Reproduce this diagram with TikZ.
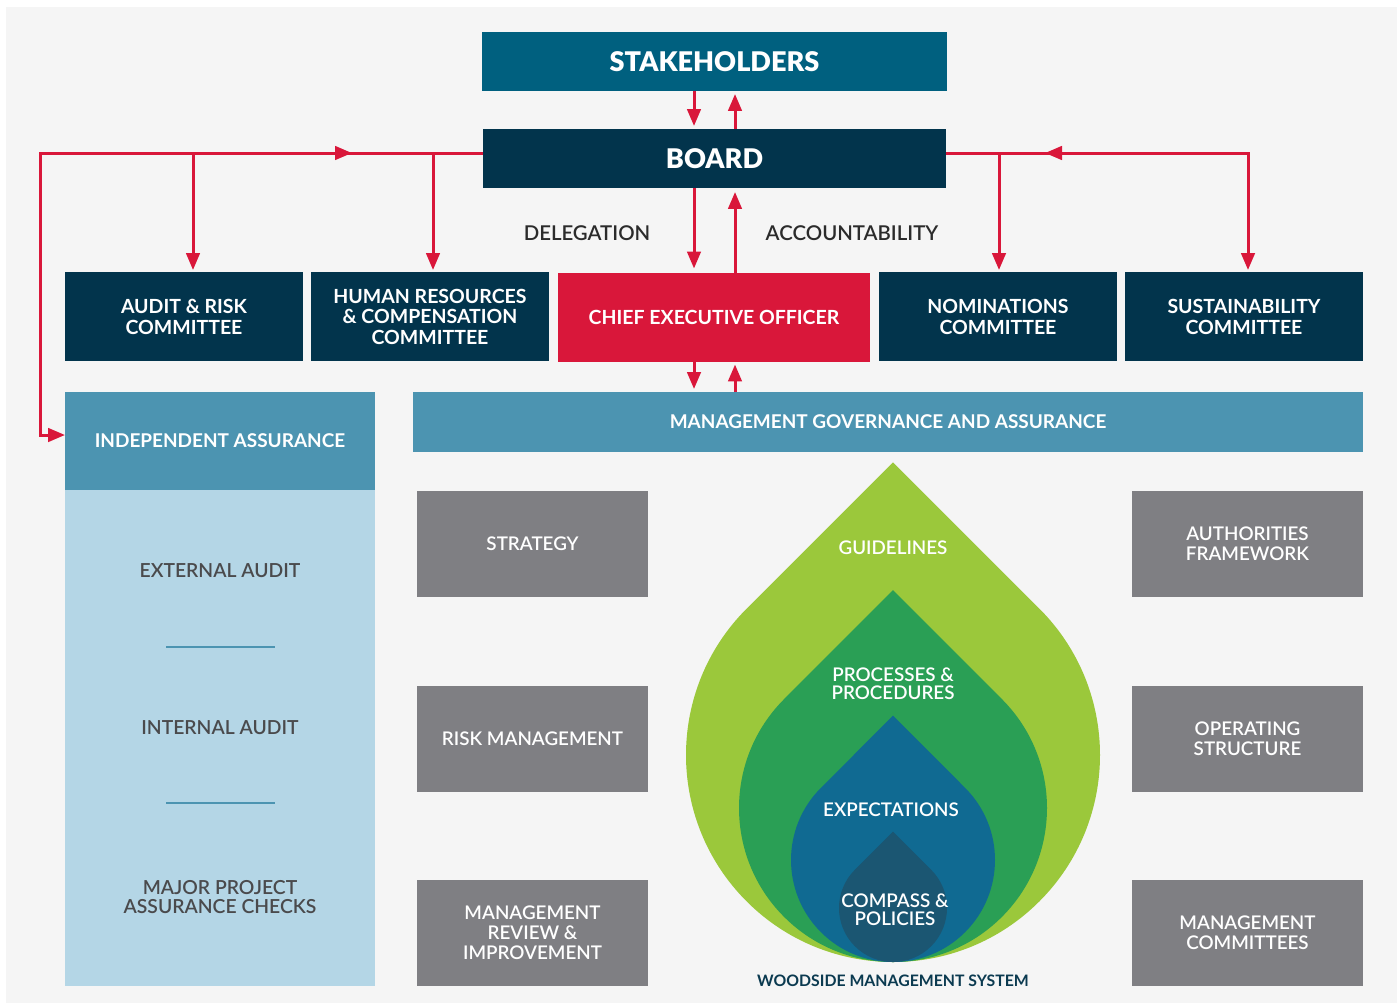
\documentclass[tikz,border=0pt]{standalone}
\usepackage{fontspec}
\setmainfont{Lato}
\newfontfamily\latoblack{Lato Black}
\newfontfamily\latomed{Lato Semibold}
\usetikzlibrary{arrows.meta,calc}
\definecolor{bgc}{HTML}{F5F5F5}
\definecolor{tealc}{HTML}{00607F}
\definecolor{navyc}{HTML}{02344C}
\definecolor{redc}{HTML}{D9173A}
\definecolor{midblue}{HTML}{4C94B1}
\definecolor{lightblue}{HTML}{B4D6E6}
\definecolor{grayc}{HTML}{7F7F83}
\definecolor{txtgray}{HTML}{4A4A4C}
\definecolor{txtdark}{HTML}{2B2B2B}
\definecolor{limec}{HTML}{9BC83B}
\definecolor{greenc}{HTML}{2A9F55}
\definecolor{bluec}{HTML}{106A92}
\definecolor{darkbc}{HTML}{1B5672}
\definecolor{wmsc}{HTML}{0B3A50}
\newcommand\bigfnt{\fontsize{15.4}{15}\selectfont\latoblack}
\newcommand\comfnt{\fontsize{11.1}{11.6}\selectfont\bfseries}
\newcommand\hdfnt{\fontsize{10.8}{11.3}\selectfont\bfseries}
\newcommand\grayfnt{\fontsize{10.7}{11.3}\selectfont\latomed}
\newcommand\iafnt{\fontsize{11}{10.8}\selectfont\latomed}
\newcommand\dropfnt{\fontsize{10.7}{10}\selectfont\latomed}
\begin{document}
\begin{tikzpicture}[x=0.02cm,y=-0.02cm,
  box/.style={inner sep=0pt, outer sep=0pt, align=center, text=white},
  navybox/.style={box, fill=navyc, minimum width=4.76cm, minimum height=1.78cm, font=\comfnt},
  graybox/.style={box, fill=grayc, minimum width=4.62cm, minimum height=2.12cm, font=\grayfnt},
  iatxt/.style={inner sep=0pt, align=center, text=txtgray, font=\iafnt},
  droptxt/.style={inner sep=0pt, align=center, text=white, font=\dropfnt},
  rl/.style={draw=redc, line width=0.06cm},
  arr/.style={rl, -{Triangle[width=0.27cm,length=0.34cm]}},
]
% background
\fill[white] (0,0) rectangle (1400,1005);
\fill[bgc] (6,7) rectangle (1397,1003);

% top boxes
\node[box, fill=tealc, minimum width=9.3cm, minimum height=1.18cm, font=\bigfnt] (stake) at (714.5,61.5) {\raisebox{-0.04cm}{STAKEHOLDERS}};
\node[box, fill=navyc, minimum width=9.26cm, minimum height=1.18cm, font=\bigfnt] (board) at (714.5,158.5) {\raisebox{-0.05cm}{BOARD}};

% committees row
\node[navybox] (audit) at (184,316.5) {\rule{0pt}{0.3cm}AUDIT \& RISK\\COMMITTEE};
\node[navybox] (hr) at (430,316.5) {\rule{0pt}{0.3cm}HUMAN RESOURCES\\\& COMPENSATION\\COMMITTEE};
\node[navybox, fill=redc, minimum width=6.24cm] (ceo) at (714,317) {\raisebox{-0.03cm}{CHIEF EXECUTIVE OFFICER}};
\node[navybox] (nom) at (998,316.5) {\rule{0pt}{0.3cm}NOMINATIONS\\COMMITTEE};
\node[navybox] (sust) at (1244,316.5) {\rule{0pt}{0.3cm}SUSTAINABILITY\\COMMITTEE};

% labels
\node[inner sep=0pt, text=txtdark, font=\fontsize{11.6}{12}\selectfont\latomed] (deleg) at (587,233) {DELEGATION};
\node[inner sep=0pt, text=txtdark, font=\fontsize{11.6}{12}\selectfont\latomed] (acct) at (852,233) {ACCOUNTABILITY};

% management governance
\node[box, fill=midblue, minimum width=19cm, minimum height=1.2cm, font=\hdfnt] (mga) at (888,422) {\raisebox{-0.03cm}{MANAGEMENT GOVERNANCE AND ASSURANCE}};

% independent assurance
\node[box, fill=lightblue, minimum width=6.2cm, minimum height=9.92cm] (iab) at (220,738) {};
\node[box, fill=midblue, minimum width=6.2cm, minimum height=1.96cm, font=\hdfnt] (iah) at (220,441) {\raisebox{-0.03cm}{INDEPENDENT ASSURANCE}};
\node[iatxt] (ext) at (220,571) {EXTERNAL AUDIT};
\node[iatxt] (int) at (220,728) {INTERNAL AUDIT};
\node[iatxt] (maj) at (220,897) {MAJOR PROJECT\\ASSURANCE CHECKS};
\draw[midblue, line width=0.045cm] (166,647) -- (275,647);
\draw[midblue, line width=0.045cm] (166,803) -- (275,803);

% gray boxes
\node[graybox] (strat) at (532.5,544) {STRATEGY};
\node[graybox] (risk) at (532.5,738.5) {RISK MANAGEMENT};
\node[graybox] (mrev) at (532.5,933) {MANAGEMENT\\REVIEW \&\\IMPROVEMENT};
\node[graybox] (auth) at (1247.5,544) {AUTHORITIES\\FRAMEWORK};
\node[graybox] (oper) at (1247.5,738.5) {OPERATING\\STRUCTURE};
\node[graybox] (mcom) at (1247.5,933) {MANAGEMENT\\COMMITTEES};

% drop shapes
\fill[limec] (893,462.3) -- ($(893,755)+(225:207)$) arc[start angle=225, end angle=-45, radius=207] -- cycle;
\fill[greenc] (893,590.2) -- ($(893,808)+(225:154)$) arc[start angle=225, end angle=-45, radius=154] -- cycle;
\fill[bluec] (893,715.7) -- ($(893,860)+(225:102)$) arc[start angle=225, end angle=-45, radius=102] -- cycle;
\fill[darkbc] (893,831.6) -- ($(893,908)+(225:54)$) arc[start angle=225, end angle=-45, radius=54] -- cycle;
\node[droptxt] (guide) at (893,548) {GUIDELINES};
\node[droptxt] (proc) at (893,684) {PROCESSES \&\\PROCEDURES};
\node[droptxt] (expe) at (891,810) {EXPECTATIONS};
\node[droptxt] (comp) at (895,910) {COMPASS \&\\POLICIES};
\node[inner sep=0pt, text=wmsc, font=\fontsize{9}{9}\selectfont\bfseries] (wms) at (893,981) {WOODSIDE MANAGEMENT SYSTEM};

% connectors
\coordinate (xa) at (694,0);
\coordinate (xb) at (735,0);
\draw[arr, shorten >=0.06cm] (xa |- stake.south) -- (xa |- board.north);
\draw[arr, shorten >=0.06cm] (xb |- board.north) -- (xb |- stake.south);
\draw[arr, shorten >=0.08cm] (xa |- board.south) -- (xa |- ceo.north);
\draw[arr, shorten >=0.08cm] (xb |- ceo.north) -- (xb |- board.south);
\draw[arr, shorten >=0.06cm] (xa |- ceo.south) -- (xa |- mga.north);
\draw[arr, shorten >=0.06cm] (xb |- mga.north) -- (xb |- ceo.south);

\coordinate (Lc) at (40,153);
\coordinate (Li) at (40,435);
\coordinate (mL) at (352,153);
\coordinate (bA) at (193,153);
\coordinate (bH) at (433,153);
\coordinate (Rc) at (1248,153);
\coordinate (mR) at (1045,153);
\coordinate (bN) at (999,153);

\draw[arr] (board.west |- Lc) -- (Lc) -- (Li) -- (iah.west |- Li);
\draw[arr] (Lc) -- (mL);
\draw[arr, shorten >=0.04cm] (bA) -- (bA |- audit.north);
\draw[arr, shorten >=0.04cm] (bH) -- (bH |- hr.north);
\draw[arr, shorten >=0.04cm] (board.east |- Rc) -- (Rc) -- (Rc |- sust.north);
\draw[arr] (Rc) -- (mR);
\draw[arr, shorten >=0.04cm] (bN) -- (bN |- nom.north);
\end{tikzpicture}
\end{document}
